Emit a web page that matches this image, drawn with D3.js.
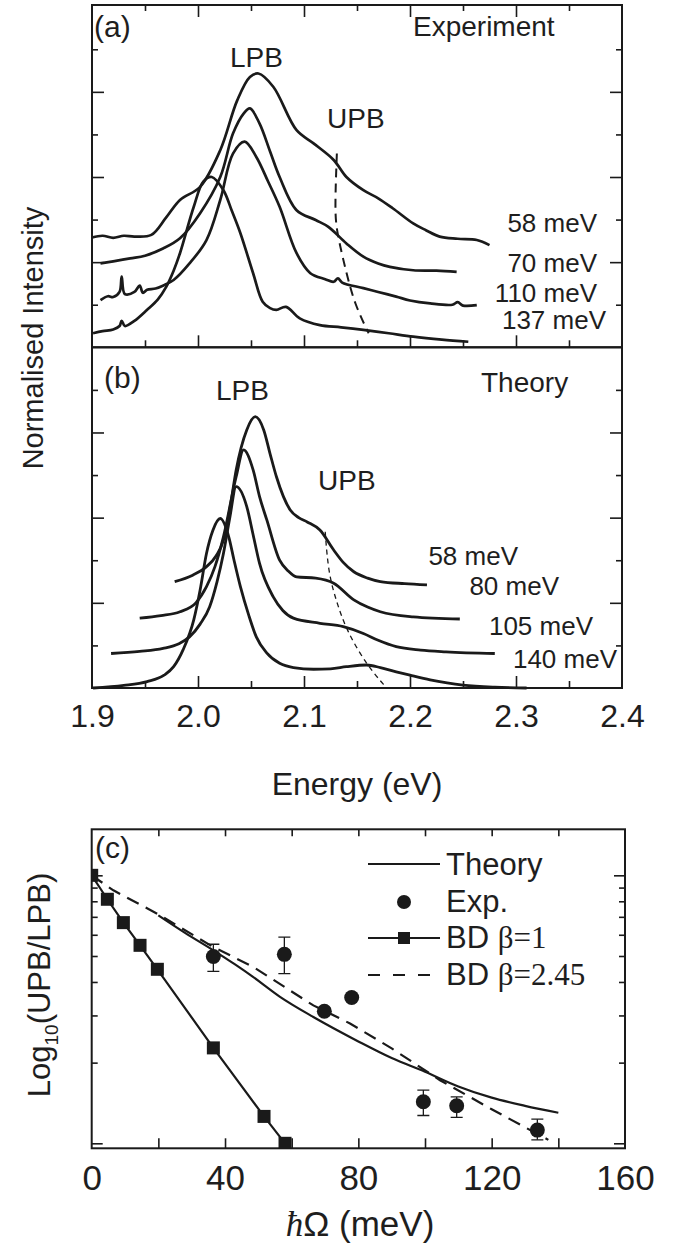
<!DOCTYPE html>
<html>
<head>
<meta charset="utf-8">
<script src="https://cdn.jsdelivr.net/npm/d3@7"></script>
<style>
  body { margin: 0; background: #fff; }
  text { font-family: "Liberation Sans", Arial, sans-serif; fill: #1e1e1e; }
</style>
</head>
<body>
<svg id="fig" width="674" height="1244"></svg>
<script>
// ---- data: panel (a) experiment, [energy eV, normalised intensity] ----
var exp58 = [[1.9,2.58],[1.91,2.62],[1.92,2.57],[1.93,2.62],[1.94,2.6],[1.956,2.64],[1.97,3.05],[1.983,3.46],[2.002,3.77],[2.021,4.63],[2.037,5.8],[2.049,6.35],[2.057,6.43],[2.071,6.12],[2.093,5.1],[2.109,4.79],[2.128,4.4],[2.14,4.0],[2.156,3.69],[2.17,3.5],[2.184,3.26],[2.203,2.91],[2.215,2.75],[2.228,2.6],[2.245,2.55],[2.263,2.52],[2.275,2.4]];
var exp70 = [[1.908,1.97],[1.92,2.02],[1.936,2.09],[1.95,2.15],[1.967,2.32],[1.983,2.56],[2.002,3.15],[2.021,4.0],[2.033,5.02],[2.043,5.49],[2.049,5.61],[2.058,5.26],[2.068,4.6],[2.077,4.0],[2.093,3.22],[2.111,2.99],[2.123,2.83],[2.14,2.44],[2.156,2.13],[2.17,1.97],[2.181,1.89],[2.203,1.81],[2.225,1.8],[2.244,1.77]];
var exp110 = [[1.908,1.11],[1.915,1.2],[1.92,1.18],[1.926,1.3],[1.928,1.66],[1.931,1.25],[1.94,1.3],[1.945,1.45],[1.948,1.28],[1.952,1.35],[1.96,1.38],[1.968,1.46],[1.977,1.58],[1.992,1.97],[2.008,2.52],[2.021,3.46],[2.033,4.55],[2.044,4.83],[2.055,4.47],[2.066,3.9],[2.077,3.3],[2.093,2.21],[2.106,1.74],[2.12,1.6],[2.128,1.54],[2.132,1.62],[2.136,1.52],[2.156,1.39],[2.17,1.3],[2.187,1.19],[2.2,1.1],[2.219,1.03],[2.24,1.0],[2.245,1.06],[2.25,0.98],[2.263,0.99]];
var exp137 = [[1.901,0.33],[1.91,0.38],[1.92,0.42],[1.926,0.5],[1.928,0.62],[1.931,0.5],[1.94,0.62],[1.952,0.88],[1.962,1.12],[1.97,1.42],[1.977,1.8],[1.983,2.21],[1.996,3.3],[2.005,3.89],[2.013,4.0],[2.024,3.69],[2.032,3.2],[2.04,2.68],[2.052,1.74],[2.061,1.07],[2.068,0.92],[2.074,0.88],[2.083,0.95],[2.096,0.68],[2.115,0.52],[2.135,0.47],[2.156,0.41],[2.18,0.33],[2.203,0.25],[2.23,0.18],[2.255,0.13]];
var upbExp = [[2.131,4.55],[2.129,3.2],[2.131,2.7],[2.14,1.74],[2.148,1.0],[2.161,0.33]];

// ---- data: panel (b) theory ----
var th58 = [[1.978,2.5],[1.995,2.65],[2.008,2.85],[2.017,3.1],[2.024,3.47],[2.03,4.2],[2.036,5.12],[2.046,6.06],[2.054,6.37],[2.062,6.06],[2.068,5.5],[2.074,4.96],[2.087,4.18],[2.095,4.0],[2.103,3.9],[2.115,3.71],[2.128,3.24],[2.137,2.95],[2.147,2.73],[2.16,2.58],[2.172,2.5],[2.195,2.45],[2.216,2.42]];
var th80 = [[1.945,1.64],[1.965,1.7],[1.983,1.79],[1.998,2.0],[2.008,2.38],[2.016,2.85],[2.024,3.55],[2.036,4.96],[2.043,5.59],[2.052,5.12],[2.058,4.5],[2.065,3.94],[2.077,3.0],[2.085,2.75],[2.093,2.61],[2.111,2.58],[2.128,2.46],[2.147,2.07],[2.16,1.9],[2.172,1.79],[2.203,1.67],[2.247,1.62]];
var th105 = [[1.918,0.81],[1.945,0.86],[1.967,0.93],[1.982,1.04],[1.992,1.2],[2.002,1.5],[2.011,1.91],[2.018,2.5],[2.024,3.16],[2.03,4.0],[2.036,4.73],[2.046,4.26],[2.052,3.6],[2.058,2.93],[2.071,2.14],[2.08,1.82],[2.09,1.64],[2.115,1.52],[2.137,1.44],[2.156,1.28],[2.17,1.12],[2.187,0.97],[2.21,0.89],[2.234,0.85],[2.28,0.81]];
var th140 = [[1.901,0.0],[1.93,0.06],[1.952,0.15],[1.968,0.3],[1.977,0.5],[1.986,0.9],[1.996,1.6],[2.002,2.3],[2.008,3.16],[2.014,3.7],[2.021,3.98],[2.029,3.55],[2.034,3.0],[2.04,2.38],[2.048,1.7],[2.055,1.2],[2.065,0.82],[2.077,0.58],[2.09,0.48],[2.109,0.44],[2.125,0.45],[2.14,0.5],[2.159,0.54],[2.172,0.48],[2.187,0.38],[2.2,0.3],[2.219,0.19],[2.235,0.12],[2.25,0.07],[2.28,0.02],[2.31,0.0]];
var upbTh = [[2.12,3.67],[2.123,2.69],[2.131,2.0],[2.14,1.36],[2.159,0.54],[2.178,0.0]];

var expLabels = ["58 meV", "70 meV", "110 meV", "137 meV"];
var thLabels = ["58 meV", "80 meV", "105 meV", "140 meV"];
var energyTicks = [1.9, 2.0, 2.1, 2.2, 2.3, 2.4];

// ---- data: panel (c), [hbar Omega meV, UPB/LPB] ----
var bdMeV = [0, 4.7, 9.5, 14.5, 19.7, 36.5, 51.7, 58];
var bdVal = [1.0, 0.814, 0.666, 0.548, 0.446, 0.227, 0.126, 0.1];
var expMeV = [36.5, 57.8, 69.8, 78, 99.5, 109.5, 133.7];
var expVal = [0.498, 0.507, 0.311, 0.35, 0.143, 0.138, 0.112];
var expLo = [0.438, 0.430, 0.303, 0.35, 0.127, 0.125, 0.103];
var expHi = [0.553, 0.588, 0.320, 0.35, 0.158, 0.149, 0.123];
var theoryC = [[20,0.709],[28,0.61],[36.5,0.525],[43,0.465],[48.5,0.417],[56.5,0.352],[66.5,0.296],[80,0.24],[90,0.208],[100,0.185],[110,0.163],[120,0.148],[130,0.138],[140,0.13]];
var bd245 = [[0,1.0],[6.5,0.879],[20,0.715],[36.5,0.54],[48.5,0.455],[66.5,0.327],[77.5,0.28],[90,0.226],[104.5,0.172],[120,0.134],[137,0.103]];
var meVTicks = [0, 40, 80, 120, 160];

var svg = d3.select("#fig");
var ink = "#1a1a1a";

// scales
var xE = d3.scaleLinear().domain([1.9, 2.4]).range([92, 622]);
var yA = d3.scaleLinear().domain([0, 8.04]).range([347.3, 5]);
var yB = d3.scaleLinear().domain([0, 8]).range([688, 347.3]);
var xC = d3.scaleLinear().domain([0, 160]).range([91.7, 625]);
var yC = d3.scaleLog().domain([0.0958, 1.485]).range([1148.3, 829.3]);

function inward(g, axis, size) {
    g.call(axis.tickSize(-size).tickFormat(""))
        .call(g => g.select(".domain").remove())
        .selectAll("line").attr("stroke", ink).attr("stroke-width", 1.6);
}

function frame(x, y) {
    svg.append("rect")
        .attr("x", x.range()[0]).attr("y", y.range()[1])
        .attr("width", x.range()[1] - x.range()[0])
        .attr("height", y.range()[0] - y.range()[1])
        .attr("fill", "none").attr("stroke", ink).attr("stroke-width", 2);
}

/**
 * Panels (a) and (b): ticks
 */
var majorE = [2.0, 2.1, 2.2, 2.3];
var minorE = [1.95, 2.05, 2.15, 2.25, 2.35];
[[yA, true], [yB, false]].forEach(([y, isTop]) => {
    var top = y.range()[1], bot = y.range()[0];
    if (isTop) {
        inward(svg.append("g").attr("transform", `translate(0,${top})`), d3.axisTop(xE).tickValues(majorE), 12);
        inward(svg.append("g").attr("transform", `translate(0,${top})`), d3.axisTop(xE).tickValues(minorE), 6);
    }
    inward(svg.append("g").attr("transform", `translate(0,${bot})`), d3.axisBottom(xE).tickValues(majorE), 12);
    inward(svg.append("g").attr("transform", `translate(0,${bot})`), d3.axisBottom(xE).tickValues(minorE), 7);
    inward(svg.append("g").attr("transform", `translate(92,0)`), d3.axisLeft(y).tickValues([2, 4, 6]), 12);
    inward(svg.append("g").attr("transform", `translate(92,0)`), d3.axisLeft(y).tickValues([1, 3, 5, 7]), 6);
    inward(svg.append("g").attr("transform", `translate(622,0)`), d3.axisRight(y).tickValues([2, 4, 6]), 12);
    inward(svg.append("g").attr("transform", `translate(622,0)`), d3.axisRight(y).tickValues([1, 3, 5, 7]), 6);
});
frame(xE, yA);
frame(xE, yB);

// energy tick labels
svg.append("g").attr("transform", "translate(0,688)")
    .call(d3.axisBottom(xE).tickValues(energyTicks).tickSize(0).tickPadding(16).tickFormat(d3.format(".1f")))
    .call(g => g.select(".domain").remove())
    .selectAll("text").attr("font-size", 32).attr("font-family", "Liberation Sans").attr("fill", ink);

/**
 * Spectra
 */
var lineA = d3.line().x(d => xE(d[0])).y(d => yA(d[1])).curve(d3.curveCatmullRom.alpha(0.5));
var lineB = d3.line().x(d => xE(d[0])).y(d => yB(d[1])).curve(d3.curveMonotoneX);
var lineBd = d3.line().x(d => xE(d[0])).y(d => yB(d[1])).curve(d3.curveBasis);

[exp58, exp70, exp110, exp137].forEach(s => {
    svg.append("path").attr("d", lineA(s)).attr("fill", "none")
        .attr("stroke", ink).attr("stroke-width", 2.7).attr("stroke-linejoin", "round");
});
svg.append("path").attr("d", d3.line().x(d => xE(d[0])).y(d => yA(d[1])).curve(d3.curveBasis)(upbExp))
    .attr("fill", "none").attr("stroke", ink).attr("stroke-width", 2).attr("stroke-dasharray", "9,6");

[th58, th80, th105, th140].forEach(s => {
    svg.append("path").attr("d", lineB(s)).attr("fill", "none")
        .attr("stroke", ink).attr("stroke-width", 2.8);
});
svg.append("path").attr("d", lineBd(upbTh))
    .attr("fill", "none").attr("stroke", ink).attr("stroke-width", 1.3).attr("stroke-dasharray", "5,4");

// panel text
function label(x, y, txt, size, anchor) {
    return svg.append("text").attr("x", x).attr("y", y).attr("font-size", size)
        .attr("text-anchor", anchor || "start").text(txt);
}
label(94, 37, "(a)", 30);
label(230, 67, "LPB", 28);
label(327, 128, "UPB", 28);
label(413, 36, "Experiment", 28);
var expLabelPos = [[597, 232], [597, 272], [597, 302], [606, 329]];
expLabels.forEach((t, i) => label(expLabelPos[i][0], expLabelPos[i][1], t, 26, "end"));

label(104, 388, "(b)", 30);
label(216, 400, "LPB", 28);
label(318, 490, "UPB", 28);
label(481, 392, "Theory", 28);
var thLabelPos = [[518, 565], [559, 595], [593, 635], [617, 668]];
thLabels.forEach((t, i) => label(thLabelPos[i][0], thLabelPos[i][1], t, 26, "end"));

svg.append("text").attr("transform", "translate(43,338) rotate(-90)")
    .attr("text-anchor", "middle").attr("font-size", 29).text("Normalised Intensity");
label(357, 795, "Energy (eV)", 32, "middle");

/**
 * Panel (c)
 */
var cTop = yC.range()[1], cBot = yC.range()[0];
var meV20 = d3.range(20, 160, 20);
inward(svg.append("g").attr("transform", `translate(0,${cTop})`), d3.axisTop(xC).tickValues(meV20), 7);
inward(svg.append("g").attr("transform", `translate(0,${cBot})`), d3.axisBottom(xC).tickValues(meV20), 10);
var logMajor = [0.1, 1.0];
var logMinor = [0.2, 0.3, 0.4, 0.5, 0.6, 0.7, 0.8, 0.9];
[[d3.axisLeft, 91.7], [d3.axisRight, 625]].forEach(([ax, x]) => {
    inward(svg.append("g").attr("transform", `translate(${x},0)`), ax(yC).tickValues(logMajor), 11);
    inward(svg.append("g").attr("transform", `translate(${x},0)`), ax(yC).tickValues(logMinor), 6);
});
frame(xC, yC);

svg.append("g").attr("transform", `translate(0,${cBot})`)
    .call(d3.axisBottom(xC).tickValues(meVTicks).tickSize(0).tickPadding(17))
    .call(g => g.select(".domain").remove())
    .selectAll("text").attr("font-size", 35).attr("font-family", "Liberation Sans").attr("fill", ink);

svg.append("defs").append("clipPath").attr("id", "clipC")
    .append("rect").attr("x", 91.7).attr("y", cTop).attr("width", 625 - 91.7).attr("height", cBot - cTop);
var plotC = svg.append("g").attr("clip-path", "url(#clipC)");

var lineC = d3.line().x(d => xC(d[0])).y(d => yC(d[1]));
var bdPts = bdMeV.map((m, i) => [m, bdVal[i]]);

plotC.append("path").attr("d", lineC.curve(d3.curveMonotoneX)(theoryC)).attr("fill", "none")
    .attr("stroke", ink).attr("stroke-width", 2.2);
plotC.append("path").attr("d", lineC.curve(d3.curveLinear)(bd245)).attr("fill", "none")
    .attr("stroke", ink).attr("stroke-width", 2.2).attr("stroke-dasharray", "13,8");
plotC.append("path").attr("d", lineC(bdPts)).attr("fill", "none")
    .attr("stroke", ink).attr("stroke-width", 2.2);
plotC.selectAll(".sq").data(bdPts).enter().append("rect")
    .attr("x", d => xC(d[0]) - 6.5).attr("y", d => yC(d[1]) - 6.5)
    .attr("width", 13).attr("height", 13).attr("fill", ink);

// experimental points with error bars
expMeV.forEach((m, i) => {
    var x = xC(m);
    if (expHi[i] > expLo[i]) {
        var g = plotC.append("g").attr("stroke", ink).attr("stroke-width", 1.3);
        g.append("line").attr("x1", x).attr("x2", x).attr("y1", yC(expLo[i])).attr("y2", yC(expHi[i]));
        [expLo[i], expHi[i]].forEach(v => g.append("line")
            .attr("x1", x - 6).attr("x2", x + 6).attr("y1", yC(v)).attr("y2", yC(v)));
    }
    plotC.append("circle").attr("cx", x).attr("cy", yC(expVal[i])).attr("r", 7.5).attr("fill", ink);
});

// legend
var legY = [875, 912, 948, 985];
var lx0 = 368, lx1 = 440, tx = 446;
svg.append("line").attr("x1", lx0).attr("x2", lx1).attr("y1", legY[0] - 11).attr("y2", legY[0] - 11)
    .attr("stroke", ink).attr("stroke-width", 2.2);
svg.append("circle").attr("cx", 404).attr("cy", legY[1] - 10).attr("r", 7).attr("fill", ink);
svg.append("line").attr("x1", lx0).attr("x2", lx1).attr("y1", legY[2] - 10).attr("y2", legY[2] - 10)
    .attr("stroke", ink).attr("stroke-width", 2.2);
svg.append("rect").attr("x", 398).attr("y", legY[2] - 16).attr("width", 12).attr("height", 12).attr("fill", ink);
svg.append("line").attr("x1", lx0).attr("x2", 432).attr("y1", legY[3] - 10).attr("y2", legY[3] - 10)
    .attr("stroke", ink).attr("stroke-width", 2.2).attr("stroke-dasharray", "12,13");

label(tx, legY[0], "Theory", 31);
label(tx, legY[1], "Exp.", 31);
var t3 = label(tx, legY[2], "BD ", 31);
t3.append("tspan").attr("font-family", "Liberation Serif").text("β=1");
var t4 = label(tx, legY[3], "BD ", 31);
t4.append("tspan").attr("font-family", "Liberation Serif").text("β=2.45");

label(95, 858, "(c)", 30);

var ylab = svg.append("text").attr("transform", "translate(50,985) rotate(-90)")
    .attr("text-anchor", "middle").attr("font-size", 31).text("Log");
ylab.append("tspan").attr("font-size", 19).attr("dy", 8).text("10");
ylab.append("tspan").attr("dy", -8).text("(UPB/LPB)");

var xlab = svg.append("text").attr("x", 360).attr("y", 1236).attr("text-anchor", "middle").attr("font-size", 35);
xlab.append("tspan").attr("font-family", "Liberation Serif").attr("font-style", "italic").text("ħ");
xlab.append("tspan").text("Ω (meV)");
</script>
</body>
</html>
